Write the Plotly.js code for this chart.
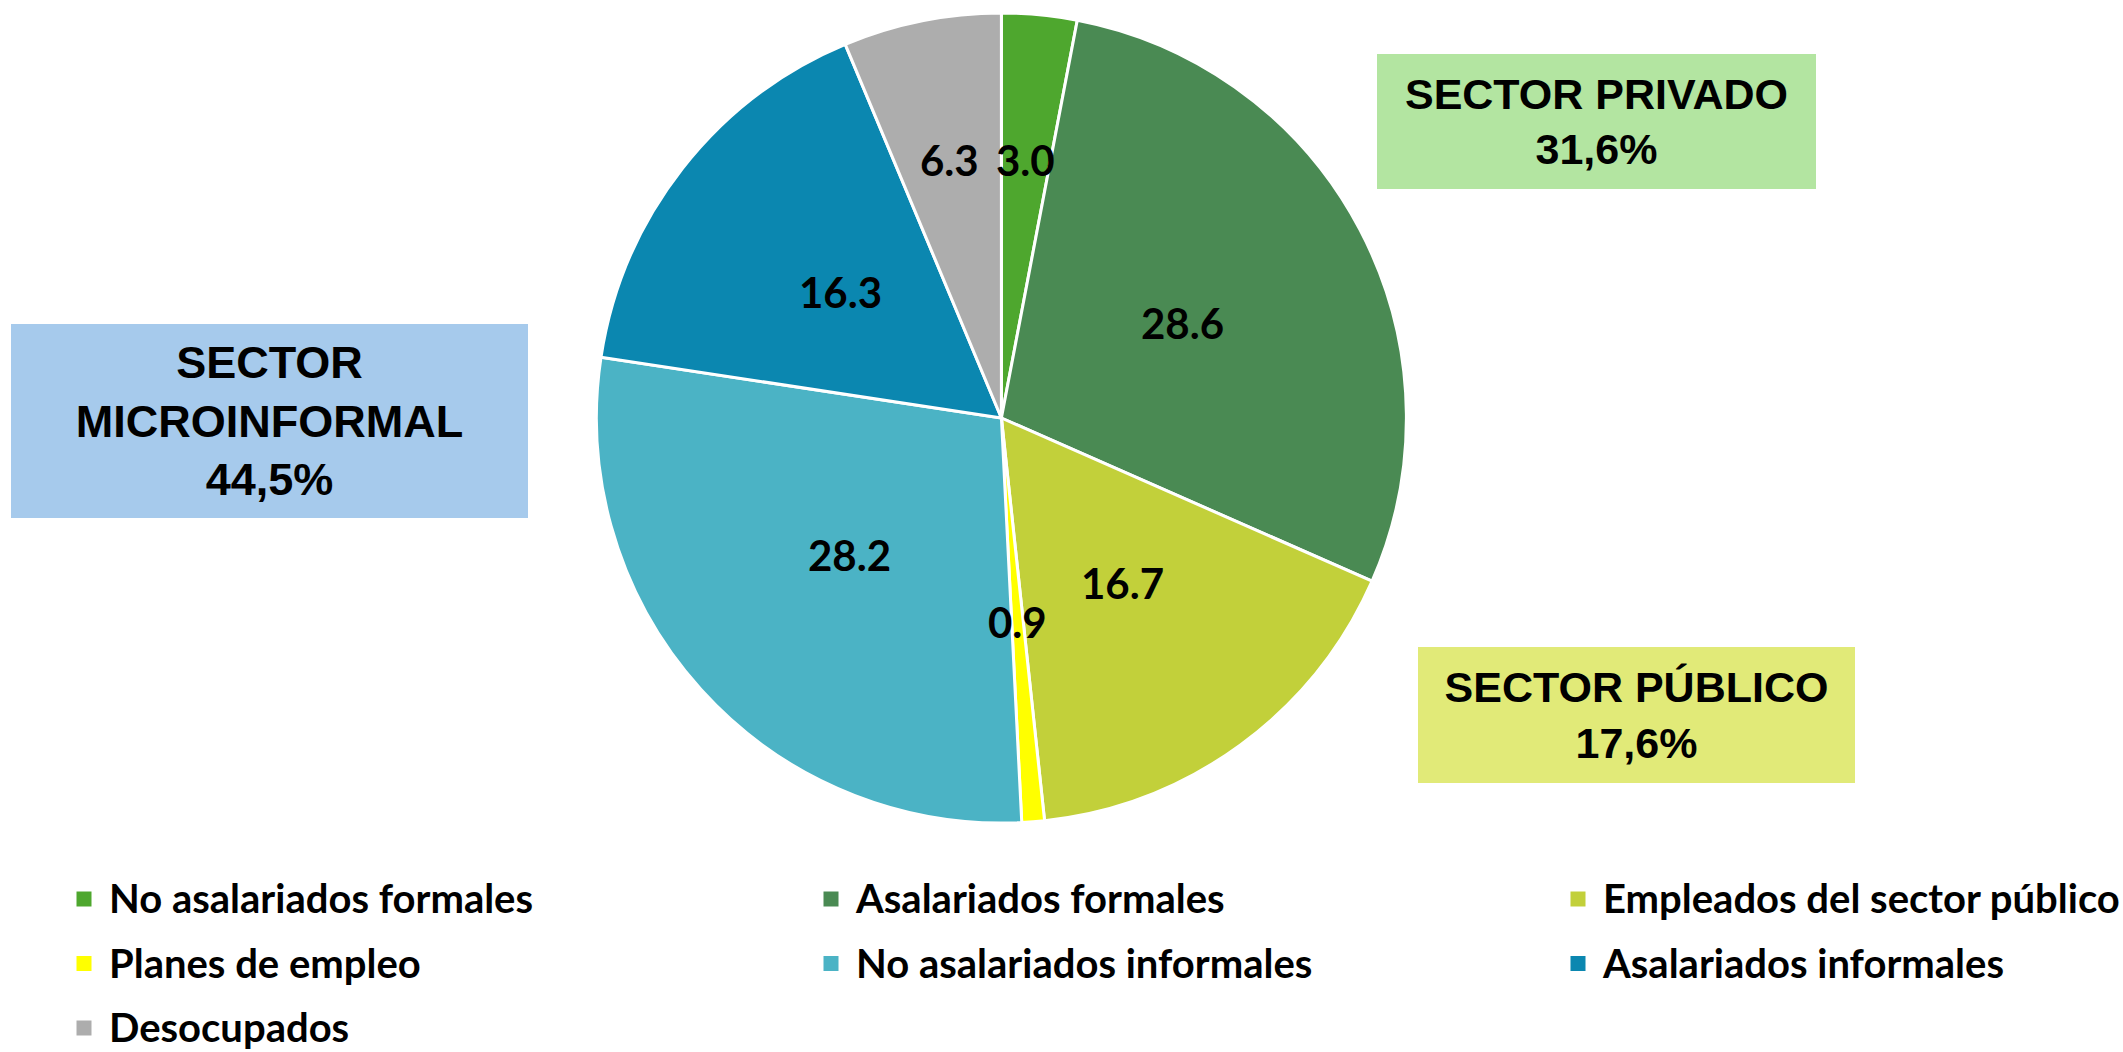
<!DOCTYPE html>
<html>
<head>
<meta charset="utf-8">
<script src="https://cdn.plot.ly/plotly-3.0.1.min.js"></script>
<style>
  html, body { margin: 0; padding: 0; background: #ffffff; overflow: hidden; }
  #chart { width: 2123px; height: 1052px; overflow: hidden; }
</style>
</head>
<body>
<div id="chart"></div>
<script>
// ---- data ----
const labels = ['No asalariados formales', 'Asalariados formales', 'Empleados del sector público',
                'Planes de empleo', 'No asalariados informales', 'Asalariados informales', 'Desocupados'];
const values = [3.0, 28.6, 16.7, 0.9, 28.2, 16.3, 6.3];
const sectorNames = ['SECTOR PRIVADO', 'SECTOR<br>MICROINFORMAL', 'SECTOR PÚBLICO'];
const sectorShares = ['31,6%', '44,5%', '17,6%'];

// ---- style ----
const colors = ['#4EA72E', '#4A8A53', '#C2D03A', '#FFFF00', '#4BB3C5', '#0B87B0', '#ADADAD'];
const labelRadiusFrac = [0.64, 0.505, 0.505, 0.505, 0.505, 0.505, 0.65];
const W = 2250, H = 1052;           // layout a bit wider than the window so the 3 legend columns fit
const pie = { left: 596.4, right: 1406.4, top: 13, bottom: 823 };
const dom = { x: [pie.left / W, pie.right / W], y: [1 - pie.bottom / H, 1 - pie.top / H] };
const sectorBoxes = [
  { cx: 1596.5, cy: 121.5, w: 439, h: 135, bg: '#B3E5A1', size: 43 },
  { cx: 269.5, cy: 421.5, w: 517, h: 194, bg: '#A6CAEC', size: 45 },
  { cx: 1636.5, cy: 715, w: 437, h: 136, bg: '#E1EA78', size: 43 }
];

const legendNames = labels.map(l => '<span style="font-size:40px">' + l + '</span>');

const trace = {
  type: 'pie',
  labels: legendNames,
  values: values,
  sort: false,
  direction: 'clockwise',
  rotation: 0,
  textinfo: 'none',
  hoverinfo: 'none',
  domain: dom,
  marker: { colors: colors, line: { color: '#FFFFFF', width: 3 } },
  showlegend: true
};

// data labels positioned at the middle angle of each slice
const total = values.reduce((a, b) => a + b, 0);
const cxPx = (dom.x[0] + dom.x[1]) / 2 * W;
const cyPx = (1 - (dom.y[0] + dom.y[1]) / 2) * H;
const R = Math.min((dom.x[1] - dom.x[0]) * W, (dom.y[1] - dom.y[0]) * H) / 2;
const annotations = [];
let cum = 0;
values.forEach((v, i) => {
  const theta = 2 * Math.PI * (cum + v / 2) / total;
  cum += v;
  const px = cxPx + labelRadiusFrac[i] * R * Math.sin(theta);
  const py = cyPx - labelRadiusFrac[i] * R * Math.cos(theta);
  annotations.push({
    xref: 'paper', yref: 'paper', x: px / W, y: 1 - py / H,
    xanchor: 'center', yanchor: 'middle', showarrow: false,
    text: v.toFixed(1),
    font: { family: 'Lato', size: 42, weight: 'bold', color: '#000000' }
  });
});

sectorNames.forEach((name, i) => {
  const b = sectorBoxes[i];
  annotations.push({
    xref: 'paper', yref: 'paper', x: b.cx / W, y: 1 - b.cy / H,
    xanchor: 'center', yanchor: 'middle', showarrow: false,
    width: b.w, height: b.h, bgcolor: b.bg, borderpad: 0, borderwidth: 0,
    align: 'center', valign: 'middle',
    text: name + '<br>' + sectorShares[i],
    font: { family: 'Liberation Sans, Arial', size: b.size, weight: 'bold', color: '#000000' }
  });
});

const layout = {
  width: W, height: H,
  margin: { l: 0, r: 0, t: 0, b: 0, pad: 0, autoexpand: false },
  paper_bgcolor: '#FFFFFF',
  plot_bgcolor: '#FFFFFF',
  showlegend: true,
  legend: {
    orientation: 'h',
    x: 69 / W, xanchor: 'left',
    y: 1 - 857.75 / H, yanchor: 'top',
    entrywidth: 702, entrywidthmode: 'pixels',
    traceorder: 'normal',
    font: { family: 'Lato', size: 47.3, weight: 'bold', color: '#000000' },
    bgcolor: 'rgba(0,0,0,0)'
  },
  annotations: annotations
};

Plotly.newPlot('chart', [trace], layout, { displayModeBar: false, staticPlot: true }).then(gd => {
  // larger legend swatches (18px squares), centred on the text's cap height
  gd.querySelectorAll('path.legendpie').forEach(p => {
    p.setAttribute('d', 'M4,13H-14V-5H4Z');
  });
});
</script>
</body>
</html>
